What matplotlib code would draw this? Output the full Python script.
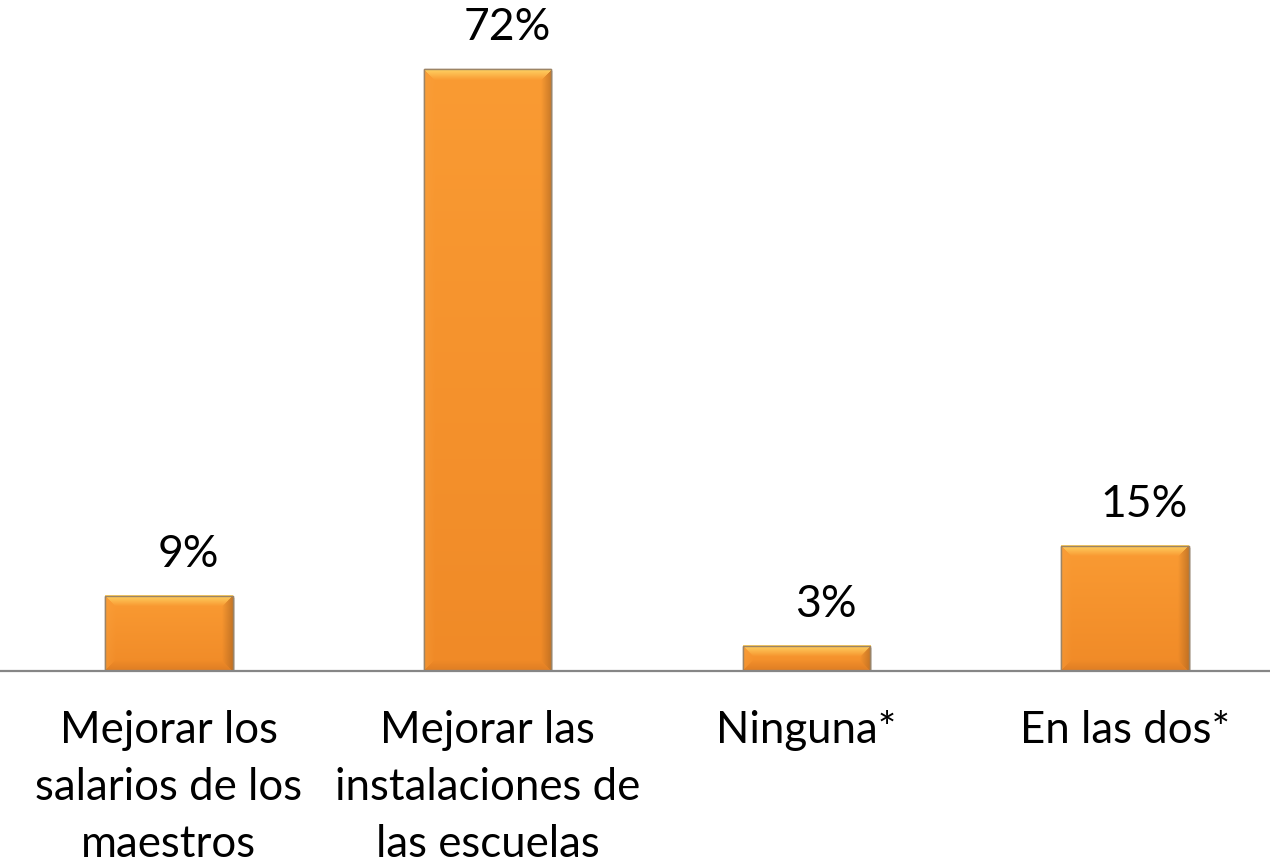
import matplotlib
matplotlib.use("Agg")
import matplotlib.pyplot as plt
import numpy as np
from matplotlib.colors import to_rgb

categories = ["Mejorar los\nsalarios de los\nmaestros",
              "Mejorar las\ninstalaciones de\nlas escuelas",
              "Ninguna*",
              "En las dos*"]
values = [9, 72, 3, 15]
value_labels = ["9%", "72%", "3%", "15%"]

plt.rcParams['font.family'] = ['Lato', 'DejaVu Sans']

fig = plt.figure(figsize=(12.7, 8.68), dpi=100)
ax = fig.add_axes([0, 0.227, 1, 0.773])
x = np.arange(len(values))
ax.set_xlim(-0.530, 3.455)
ax.set_ylim(0, 80.25)
bar_w = 0.40

bars = ax.bar(x, values, width=bar_w, color="#F7952F", edgecolor="#9C8466", linewidth=1.0, zorder=3)
fig.canvas.draw()

base_top = np.array(to_rgb("#FA9B33"))
base_bot = np.array(to_rgb("#F08A27"))
c_top = np.array(to_rgb("#FFDA6A"))
c_right = np.array(to_rgb("#A4601F"))
c_bottom = np.array(to_rgb("#C86E20"))
c_left = np.array(to_rgb("#F9A444"))

for b in bars:
    x0, y0 = b.get_x(), b.get_y()
    w, h = b.get_width(), b.get_height()
    (px0, py0), (px1, py1) = ax.transData.transform([(x0, y0), (x0 + w, y0 + h)])
    W = max(int(round(px1 - px0)), 2)
    H = max(int(round(py1 - py0)), 2)
    jj, ii = np.meshgrid(np.arange(W) + 0.5, np.arange(H) + 0.5)
    dt, db = ii, H - ii
    dl, dr = jj, W - jj
    t = (ii / H)[..., None]
    img = base_top * (1 - t) + base_bot * t
    bev = min(11.0, H / 2.2)
    dists = np.stack([dt, dr, db, dl], axis=-1)
    which = np.argmin(dists, axis=-1)
    d = np.min(dists, axis=-1)
    wgt = np.clip(1 - d / bev, 0, 1)[..., None]
    strength = [0.9, 0.6, 0.45, 0.35]
    cols = [c_top, c_right, c_bottom, c_left]
    out = img.copy()
    for k in range(4):
        m = (which == k)[..., None]
        mix = img * (1 - wgt * strength[k]) + cols[k] * (wgt * strength[k])
        out = np.where(m, mix, out)
    ax.imshow(out, extent=(x0, x0 + w, y0, y0 + h), origin="upper",
              aspect="auto", zorder=3.5, interpolation="bilinear")
    ax.bar(x0 + w / 2 + 0.006, h, width=w, bottom=y0 - 0.25, color="#000000",
           alpha=0.12, linewidth=0, zorder=2.9)
    ax.bar(x0 + w / 2, h, width=w, bottom=y0, fill=False, edgecolor="#9C8466",
           linewidth=1.0, zorder=4)

ax.set_xlim(-0.530, 3.455)
ax.set_ylim(0, 80.25)

for xi, v, lab in zip(x, values, value_labels):
    ax.annotate(lab, (xi, v), xytext=(14, 15), textcoords="offset points",
                ha="center", va="bottom", fontsize=32, color="#000000")

for s in ["top", "right", "left"]:
    ax.spines[s].set_visible(False)
ax.spines["bottom"].set_color("#868686")
ax.spines["bottom"].set_linewidth(1.6)
ax.spines["bottom"].set_zorder(5)
ax.set_yticks([])
ax.set_xticks(x)
ax.set_xticklabels(categories, fontsize=31.5, linespacing=1.48)
ax.tick_params(axis="x", length=0, pad=28)

fig.savefig("out.png", dpi=100)
